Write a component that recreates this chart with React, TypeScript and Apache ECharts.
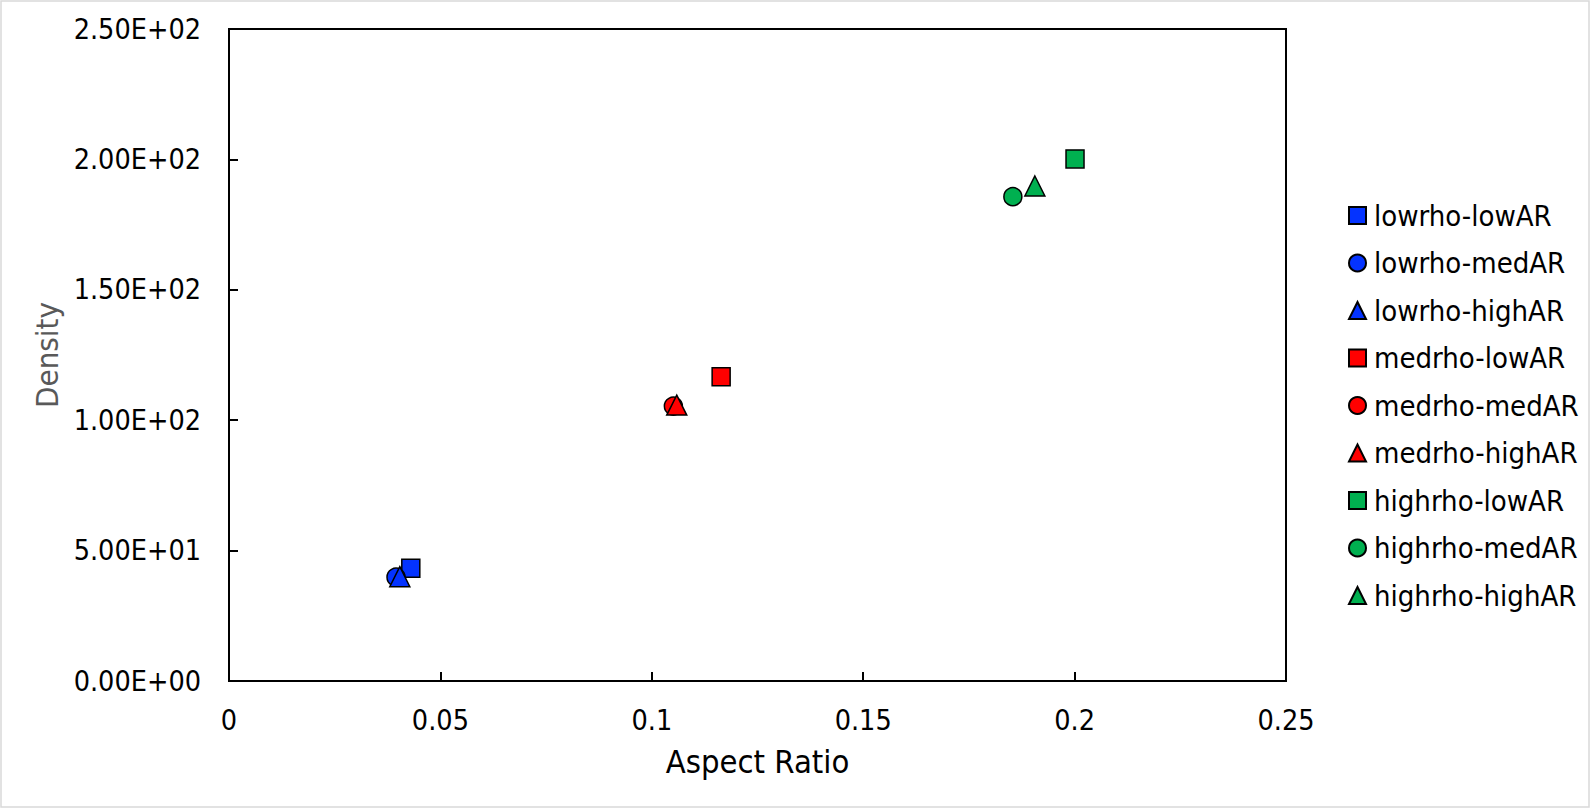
import React, { useEffect, useRef } from "react";
import * as echarts from "echarts";

const seriesNames = [
  "lowrho-lowAR", "lowrho-medAR", "lowrho-highAR",
  "medrho-lowAR", "medrho-medAR", "medrho-highAR",
  "highrho-lowAR", "highrho-medAR", "highrho-highAR",
];
const aspectRatio = [0.043, 0.0395, 0.0404, 0.1164, 0.1051, 0.1059, 0.2001, 0.1854, 0.1906];
const density = [43.2, 39.8, 40.0, 116.7, 105.4, 105.8, 200.2, 185.7, 189.8];
const seriesColors = ["#0433ff", "#0433ff", "#0433ff", "#ff0000", "#ff0000", "#ff0000", "#00b050", "#00b050", "#00b050"];
const seriesSymbols = ["rect", "circle", "triangle", "rect", "circle", "triangle", "rect", "circle", "triangle"];
const symbolSizes = [18, 18, 20, 18, 18, 20, 18, 18, 20];

const FONT = "'DejaVu Sans Condensed', 'DejaVu Sans', sans-serif";

function sci(v: number): string {
  if (v === 0) return "0.00E+00";
  const e = Math.floor(Math.log10(Math.abs(v)));
  const m = v / Math.pow(10, e);
  const sign = e < 0 ? "-" : "+";
  const ea = Math.abs(e);
  return m.toFixed(2) + "E" + sign + (ea < 10 ? "0" + ea : String(ea));
}

export default function App() {
  const ref = useRef<HTMLDivElement>(null);
  useEffect(() => {
    if (!ref.current) return;
    const chart = echarts.init(ref.current, null, { renderer: "svg" });
    const option = {
      animation: false,
      backgroundColor: "#ffffff",
      graphic: [
        {
          type: "rect",
          shape: { x: 1, y: 1, width: 1588, height: 806 },
          style: { fill: "none", stroke: "#d9d9d9", lineWidth: 1.5 },
          silent: true,
        },
      ],
      grid: {
        left: 229,
        top: 29,
        right: 304,
        bottom: 129,
        show: true,
        borderColor: "#000",
        borderWidth: 2,
      },
      legend: {
        orient: "vertical",
        left: 1343,
        top: 196,
        itemWidth: 17,
        itemHeight: 17,
        itemGap: 18.5,
        textStyle: { fontFamily: FONT, fontSize: 29, color: "#000", padding: [0, 0, 0, 3] },
        data: seriesNames,
      },
      xAxis: {
        type: "value",
        min: 0,
        max: 0.25,
        interval: 0.05,
        name: "Aspect Ratio",
        nameLocation: "middle",
        nameGap: 64,
        nameTextStyle: { fontFamily: FONT, fontSize: 32.5, color: "#000" },
        axisLine: { show: true, lineStyle: { color: "#000", width: 2 } },
        axisTick: { show: true, inside: true, length: 9, lineStyle: { color: "#000", width: 2 } },
        axisLabel: {
          fontFamily: FONT,
          fontSize: 28.5,
          color: "#000",
          margin: 25,
          formatter: (v: number) => String(+v.toFixed(4)),
        },
        splitLine: { show: false },
      },
      yAxis: {
        type: "value",
        min: 0,
        max: 250,
        interval: 50,
        name: "Density",
        nameLocation: "middle",
        nameGap: 164,
        nameTextStyle: { fontFamily: FONT, fontSize: 31, color: "#595959" },
        axisLine: { show: true, lineStyle: { color: "#000", width: 2 } },
        axisTick: { show: true, inside: true, length: 9, lineStyle: { color: "#000", width: 2 } },
        axisLabel: {
          fontFamily: FONT,
          fontSize: 28.5,
          color: "#000",
          margin: 28,
          formatter: (v: number) => sci(v),
        },
        splitLine: { show: false },
      },
      series: seriesNames.map((name, i) => ({
        name,
        type: "scatter",
        symbol: seriesSymbols[i],
        symbolSize: symbolSizes[i],
        itemStyle: { color: seriesColors[i], borderColor: "#000", borderWidth: 1.5, opacity: 1 },
        data: [[aspectRatio[i], density[i]]],
      })),
    };
    chart.setOption(option as any);
    return () => chart.dispose();
  }, []);
  return (
    <div
      ref={ref}
      style={{ position: "fixed", left: 0, top: 0, width: 1590, height: 810, background: "#fff" }}
    />
  );
}
